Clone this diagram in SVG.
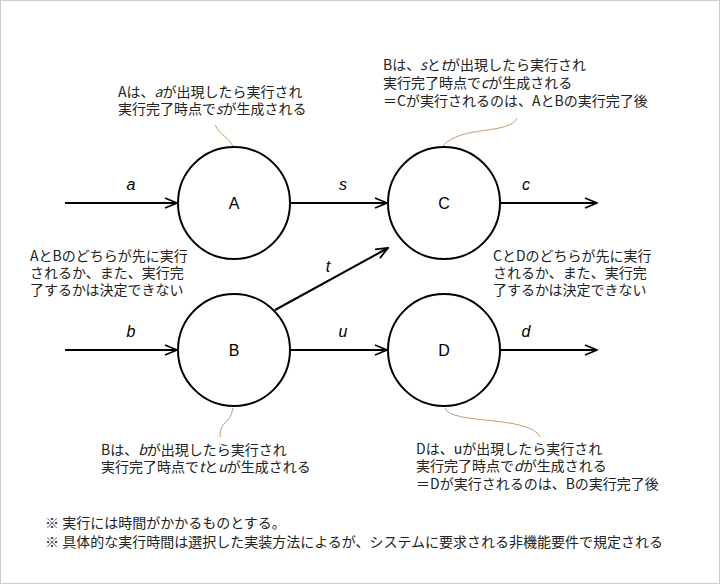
<svg xmlns="http://www.w3.org/2000/svg" width="720" height="584" viewBox="0 0 720 584">
<style>
.n{fill:#fff;stroke:#000;stroke-width:2}
.e{stroke:#000;stroke-width:2;fill:none;marker-end:url(#ar)}
.co{stroke:#c89a6a;stroke-width:1;fill:none}
text{font-family:"Noto Sans CJK JP","Liberation Sans",sans-serif;font-size:14px;fill:#222}
.lb{font-family:"Liberation Sans",sans-serif;font-size:16px;text-anchor:middle;fill:#000}
.v{font-family:"Liberation Sans",sans-serif;font-style:italic;font-size:16px;text-anchor:middle;fill:#000}
</style>
<defs><marker id="ar" markerWidth="14" markerHeight="12" refX="13" refY="6" orient="auto" markerUnits="userSpaceOnUse"><path d="M1,1 L13,6 L1,11" fill="none" stroke="#000" stroke-width="1.8"/></marker></defs>
<rect x="0.5" y="0.5" width="719" height="583" fill="#fff" stroke="#ccc"/>
<g id="connectors">
<line class="e" x1="65" y1="203" x2="177" y2="203"/>
<line class="e" x1="290" y1="203" x2="387" y2="203"/>
<line class="e" x1="500" y1="203" x2="597" y2="203"/>
<line class="e" x1="65" y1="350" x2="177" y2="350"/>
<line class="e" x1="290" y1="350" x2="387" y2="350"/>
<line class="e" x1="500" y1="350" x2="597" y2="350"/>
<line class="e" x1="275" y1="310" x2="388" y2="248"/>
<text class="v" x="131" y="190">a</text>
<text class="v" x="343" y="190">s</text>
<text class="v" x="526" y="190">c</text>
<text class="v" x="131" y="337">b</text>
<text class="v" x="343" y="337">u</text>
<text class="v" x="526" y="337">d</text>
<text class="v" x="328" y="272">t</text>
<path class="co" d="M215,125 C220,135 230,138 233,147"/>
<path class="co" d="M517,118 C510,135 460,125 443,146"/>
<path class="co" d="M233,408 C230,425 220,420 220,437"/>
<path class="co" d="M445,408 C450,425 530,415 540,437"/>
</g>
<g id="A"><circle class="n" cx="234" cy="203" r="56"/><text class="lb" x="234" y="209">A</text></g>
<g id="C"><circle class="n" cx="444" cy="203" r="56"/><text class="lb" x="444" y="209">C</text></g>
<g id="B"><circle class="n" cx="234" cy="350" r="56"/><text class="lb" x="234" y="356">B</text></g>
<g id="D"><circle class="n" cx="444" cy="350" r="56"/><text class="lb" x="444" y="356">D</text></g>
<g id="notes">
<text x="118" y="97">Aは、<tspan font-style="italic">a</tspan>が出現したら実行され</text>
<text x="118" y="114">実行完了時点で<tspan font-style="italic">s</tspan>が生成される</text>
<text x="383" y="70">Bは、<tspan font-style="italic">s</tspan>と<tspan font-style="italic">t</tspan>が出現したら実行され</text>
<text x="383" y="88">実行完了時点で<tspan font-style="italic">c</tspan>が生成される</text>
<text x="383" y="106">＝Cが実行されるのは、AとBの実行完了後</text>
<text x="30" y="261">AとBのどちらが先に実行</text>
<text x="30" y="278">されるか、また、実行完</text>
<text x="30" y="295">了するかは決定できない</text>
<text x="493" y="261">CとDのどちらが先に実行</text>
<text x="493" y="278">されるか、また、実行完</text>
<text x="493" y="295">了するかは決定できない</text>
<text x="101" y="455">Bは、<tspan font-style="italic">b</tspan>が出現したら実行され</text>
<text x="101" y="472">実行完了時点で<tspan font-style="italic">t</tspan>と<tspan font-style="italic">u</tspan>が生成される</text>
<text x="416" y="454">Dは、uが出現したら実行され</text>
<text x="416" y="471">実行完了時点で<tspan font-style="italic">d</tspan>が生成される</text>
<text x="416" y="489">＝Dが実行されるのは、Bの実行完了後</text>
<text x="45" y="528">※ 実行には時間がかかるものとする。</text>
<text x="45" y="547">※ 具体的な実行時間は選択した実装方法によるが、システムに要求される非機能要件で規定される</text>
</g>
</svg>
